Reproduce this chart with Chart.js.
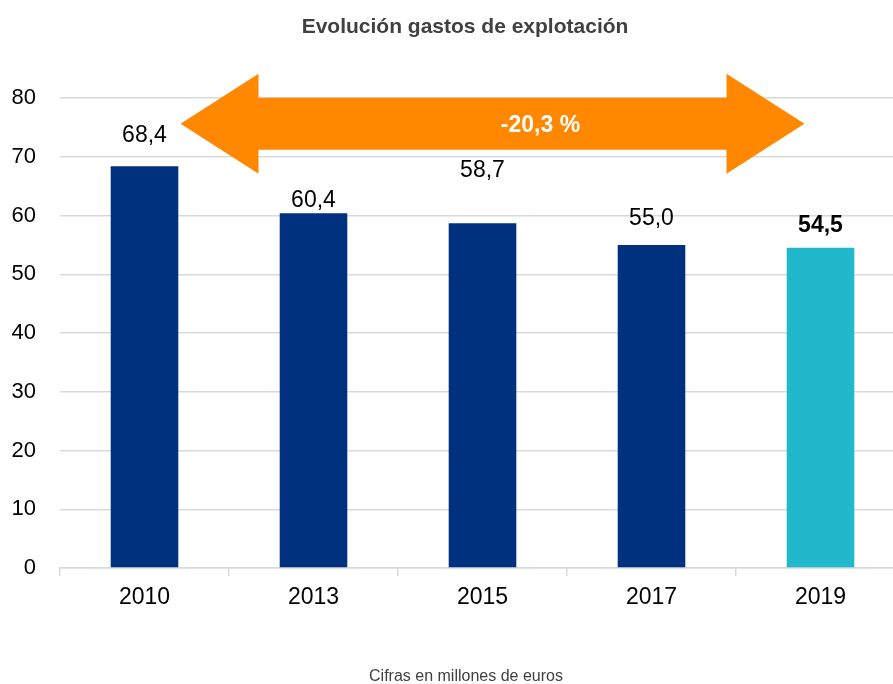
<!DOCTYPE html>
<html>
<head>
<meta charset="utf-8">
<script src="https://cdn.jsdelivr.net/npm/chart.js@4.4.0/dist/chart.umd.min.js"></script>
<style>
  html, body { margin: 0; padding: 0; background: #fff; overflow: hidden; }
  #wrap { width: 930px; height: 684px; position: relative; }
</style>
</head>
<body>
<div id="wrap"><canvas id="chart" width="930" height="684"></canvas></div>
<script>
const years = ['2010', '2013', '2015', '2017', '2019'];
const gastos = [68.4, 60.4, 58.7, 55.0, 54.5];
const yTicks = [0, 10, 20, 30, 40, 50, 60, 70, 80];
const variacion = '-20,3 %';

// manual label lift above each bar, in px (labels were placed by hand in the original)
const labelLift = [30, 12, 52, 26, 22];

const navy = '#00317F';
const teal = '#22B8CB';
const font = '"Liberation Sans", Arial, sans-serif';

const fmt = v => v.toFixed(1).replace('.', ',');

const extras = {
    id: 'extras',
    afterDatasetsDraw(chart) {
        const ctx = chart.ctx;
        const x = chart.scales.x;
        const y = chart.scales.y;
        const meta = chart.getDatasetMeta(0);

        // value labels
        ctx.save();
        ctx.textAlign = 'center';
        ctx.textBaseline = 'middle';
        ctx.fillStyle = '#000';
        meta.data.forEach((bar, i) => {
            const last = i === gastos.length - 1;
            ctx.font = (last ? 'bold ' : '') + '23px ' + font;
            ctx.fillText(fmt(gastos[i]), bar.x, bar.y - labelLift[i]);
        });
        ctx.restore();

        // orange double arrow from first to last year
        const x0 = x.getPixelForValue(0) + 36;
        const x1 = x.getPixelForValue(years.length - 1) - 16;
        const yc = y.getPixelForValue(75.6);
        const head = 78, shaft = 26, wing = 50;
        ctx.save();
        ctx.fillStyle = '#FF8800';
        ctx.beginPath();
        ctx.moveTo(x0, yc);
        ctx.lineTo(x0 + head, yc - wing);
        ctx.lineTo(x0 + head, yc - shaft);
        ctx.lineTo(x1 - head, yc - shaft);
        ctx.lineTo(x1 - head, yc - wing);
        ctx.lineTo(x1, yc);
        ctx.lineTo(x1 - head, yc + wing);
        ctx.lineTo(x1 - head, yc + shaft);
        ctx.lineTo(x0 + head, yc + shaft);
        ctx.lineTo(x0 + head, yc + wing);
        ctx.closePath();
        ctx.fill();
        ctx.fillStyle = '#fff';
        ctx.font = 'bold 23px ' + font;
        ctx.textAlign = 'center';
        ctx.textBaseline = 'middle';
        ctx.fillText(variacion, (x0 + x1) / 2 + 48, yc + 2);
        ctx.restore();

        // title and footnote
        ctx.save();
        ctx.textAlign = 'center';
        ctx.textBaseline = 'middle';
        ctx.fillStyle = '#404040';
        ctx.font = 'bold 21px ' + font;
        ctx.fillText('Evolución gastos de explotación', 465, 27);
        ctx.font = '16px ' + font;
        ctx.fillText('Cifras en millones de euros', 466, 677);
        ctx.restore();
    }
};

new Chart(document.getElementById('chart'), {
    type: 'bar',
    data: {
        labels: years,
        datasets: [{
            data: gastos,
            backgroundColor: gastos.map((v, i) => i === gastos.length - 1 ? teal : navy),
            barPercentage: 0.4,
            categoryPercentage: 1
        }]
    },
    options: {
        responsive: false,
        animation: false,
        layout: { padding: { top: 98, bottom: 71, left: 0, right: 25 } },
        plugins: {
            legend: { display: false },
            tooltip: { enabled: false }
        },
        scales: {
            x: {
                afterFit: s => { s.height = 45; },
                grid: {
                    drawOnChartArea: false,
                    drawTicks: true,
                    tickLength: 8,
                    color: '#d9d9d9',
                    lineWidth: 1.5
                },
                border: { color: '#d9d9d9', width: 1.5 },
                ticks: { color: '#000', font: { family: font, size: 23 }, padding: 8 }
            },
            y: {
                min: 0,
                max: 80,
                afterFit: s => { s.width = 60; },
                afterBuildTicks: s => { s.ticks = yTicks.map(v => ({ value: v })); },
                grid: { color: '#d9d9d9', lineWidth: 1.5, drawTicks: false },
                border: { display: false },
                ticks: { color: '#000', font: { family: font, size: 22 }, padding: 24 }
            }
        }
    },
    plugins: [extras]
});
</script>
</body>
</html>
